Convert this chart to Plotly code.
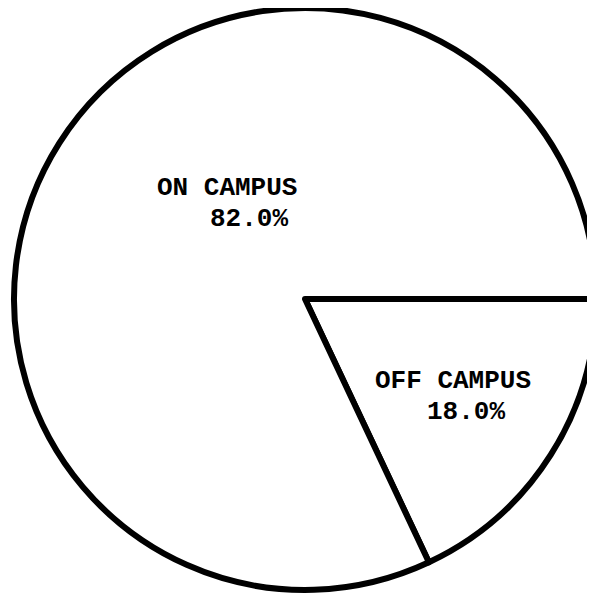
import plotly.graph_objects as go

etiquetas = ['OFF CAMPUS', 'ON CAMPUS']
valores = [18.0, 82.0]

# posicao (papel) de cada linha de texto: rotulo e percentual
pos_rotulo = {'OFF CAMPUS': (0.617, 0.359), 'ON CAMPUS': (0.243, 0.691)}
pos_pct = {'OFF CAMPUS': (0.707, 0.306), 'ON CAMPUS': (0.334, 0.638)}

fig = go.Figure(go.Pie(
    labels=etiquetas,
    values=valores,
    sort=False,
    direction='clockwise',
    rotation=90,
    textinfo='none',
    marker=dict(colors=['white', 'white'], line=dict(color='black', width=6)),
    hoverinfo='label+percent',
))

total = sum(valores)
fonte = dict(family='Courier New, Liberation Mono, monospace', size=26, color='black', weight='bold')
for nome, valor in zip(etiquetas, valores):
    x, y = pos_rotulo[nome]
    fig.add_annotation(x=x, y=y, xref='paper', yref='paper', text=nome,
                       showarrow=False, xanchor='left', yanchor='middle', font=fonte)
    x, y = pos_pct[nome]
    fig.add_annotation(x=x, y=y, xref='paper', yref='paper', text=f'{valor / total * 100:.1f}%',
                       showarrow=False, xanchor='left', yanchor='middle', font=fonte)

fig.update_layout(
    width=595, height=594,
    margin=dict(l=6, r=7, t=0, b=12),
    showlegend=False,
    paper_bgcolor='white',
    plot_bgcolor='white',
)

fig.write_html("out.html")
